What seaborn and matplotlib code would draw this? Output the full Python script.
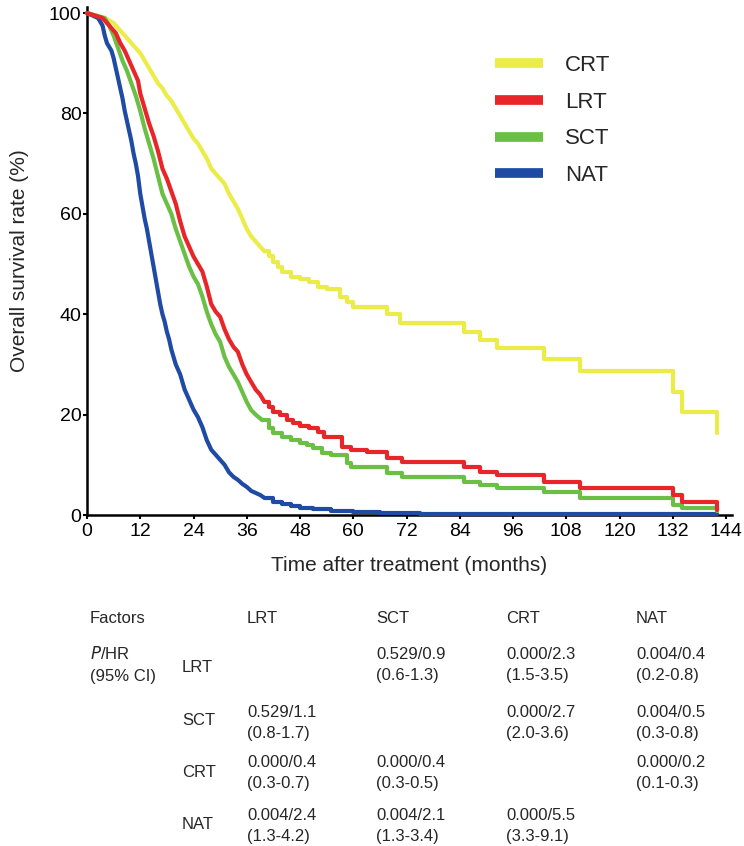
import matplotlib
matplotlib.use("Agg")
import matplotlib.pyplot as plt
from matplotlib.lines import Line2D
import pandas as pd
import seaborn as sns

# Kaplan-Meier style survival (%) (months)
crt_t = [0, 4, 6, 7, 8, 9, 10, 11, 12, 13, 14, 15, 16, 17, 18, 19, 20, 21, 22, 23,
         24, 25, 26, 27, 28, 29, 30, 31, 32, 33, 34, 35, 36, 37, 38, 39, 40, 41, 42,
         43, 44, 46, 48, 50, 52, 54, 57, 58.5, 60, 67.5, 70.5, 85, 88.5, 92.3, 103,
         111, 132, 134, 142]
crt_s = [100, 99, 98, 97, 96, 95, 94, 93, 92, 90.5, 89, 87.5, 86, 85, 83.5, 82.5, 81,
         79.5, 78, 76.5, 75, 74, 72.5, 71, 69, 68, 67, 66, 64, 62.5, 61, 59, 57, 55.5,
         54.5, 53.5, 52.5, 51.5, 50.5, 49.5, 48.5, 47.5, 47, 46.5, 45.5, 45, 43.5,
         42.5, 41.5, 40, 38.2, 36.5, 34.9, 33.2, 31.1, 28.7, 24.5, 20.5, 16.3]

lrt_t = [0, 3.5, 4.5, 5.5, 6.5, 7.5, 8.5, 9.5, 10.5, 11.5, 12, 13, 14, 15, 16, 17, 18,
         19, 20, 21, 22, 23, 24, 25, 26, 27, 28, 29, 30, 31, 32, 33, 34, 35, 36, 37,
         38, 39, 40, 41, 42, 43.5, 45, 46.5, 48, 50, 52, 53.5, 57.5, 59.5, 63, 67.5,
         71, 85, 88.5, 92.3, 103, 111, 132, 134, 142]
lrt_s = [100, 99, 98, 97, 96, 94, 92.5, 90.5, 88.5, 86.5, 84, 81, 78, 75.5, 72.5, 69,
         67, 64.5, 62, 58.5, 55.5, 53.5, 51.5, 50, 48.5, 45.5, 42, 40.5, 39.5, 37, 35,
         33.5, 32.5, 30, 28, 26.5, 25, 24, 22.5, 21.5, 20.5, 19.9, 19, 18.3, 17.8,
         17.3, 16.5, 15.5, 13.5, 12.9, 12.5, 11.4, 10.6, 9.6, 8.6, 8.0, 6.6, 5.4, 4.0,
         2.6, 1.0]

sct_t = [0, 4, 5, 6, 7, 8, 9, 10, 11, 12, 13, 14, 15, 16, 17, 18, 19, 20, 21, 22, 23,
         24, 25, 26, 27, 28, 29, 30, 31, 32, 33, 34, 35, 36, 37, 38, 39.5, 41, 42, 44,
         46, 48, 49.5, 51, 53, 55, 58.5, 59.5, 67.5, 71, 85, 88.5, 92.3, 103, 111,
         132, 134, 142]
sct_s = [100, 99, 97.5, 95.5, 93, 90.5, 88.5, 86, 83.5, 80.5, 77, 74, 71, 67.5, 64,
         62, 60, 57, 54.5, 52, 49.5, 47.5, 46, 43.5, 40.5, 38, 36, 34.5, 31.5, 29.5,
         28, 26.5, 24.5, 22.5, 20.9, 20, 18.9, 17.3, 16.3, 15.5, 14.9, 14.3, 13.9,
         13.3, 12.4, 11.9, 10.3, 9.6, 8.4, 7.6, 6.6, 6.0, 5.4, 4.6, 3.4, 2.0, 1.4, 0.8]

nat_t = [0, 2.5, 3.5, 4, 4.5, 5.5, 6, 6.5, 7, 7.5, 8, 8.5, 9, 9.5, 10, 10.5, 11, 11.5,
         12, 12.5, 13, 13.5, 14, 14.5, 15, 15.5, 16, 16.5, 17, 17.5, 18, 18.5, 19,
         19.5, 20, 21, 22, 23, 24, 25, 26, 27, 28, 29, 30, 31, 32, 33, 34, 35, 36, 37,
         38, 39, 40, 42, 44, 46, 48, 51, 55, 60, 66, 75, 142]
nat_s = [100, 99, 97.5, 95.5, 94, 92.5, 91, 89, 87, 85, 83, 80.5, 78.5, 76.5, 74.5,
         72, 70, 67.5, 64, 61.5, 59, 57, 54.5, 52, 49.5, 47, 44.5, 42, 40, 38.5, 36.5,
         35, 33, 31.5, 30, 28, 25, 23, 21, 19.5, 17.5, 14.9, 13, 12, 11, 10, 8.5, 7.6,
         7, 6.2, 5.6, 4.8, 4.4, 4, 3.4, 2.6, 2.2, 1.8, 1.4, 1.2, 0.8, 0.5, 0.3, 0.2,
         0.2]

groups = ["CRT", "LRT", "SCT", "NAT"]
colors = {"CRT": "#ecec48", "LRT": "#e8262a", "SCT": "#6cbf45", "NAT": "#1f4ba5"}

x_ticks = list(range(0, 145, 12))
y_ticks = [0, 20, 40, 60, 80, 100]

# comparison table: header, row labels, cells (None = blank)
col_labels = ["LRT", "SCT", "CRT", "NAT"]
row_labels = ["LRT", "SCT", "CRT", "NAT"]
cells = [
    [None, "0.529/0.9\n(0.6-1.3)", "0.000/2.3\n(1.5-3.5)", "0.004/0.4\n(0.2-0.8)"],
    ["0.529/1.1\n(0.8-1.7)", None, "0.000/2.7\n(2.0-3.6)", "0.004/0.5\n(0.3-0.8)"],
    ["0.000/0.4\n(0.3-0.7)", "0.000/0.4\n(0.3-0.5)", None, "0.000/0.2\n(0.1-0.3)"],
    ["0.004/2.4\n(1.3-4.2)", "0.004/2.1\n(1.3-3.4)", "0.000/5.5\n(3.3-9.1)", None],
]

# the dense early decline reads as a jagged line, the sparse tail as clear steps
STEP_FROM = 40

early_parts, late_parts = [], []
for name, t, s in [("CRT", crt_t, crt_s), ("LRT", lrt_t, lrt_s),
                   ("SCT", sct_t, sct_s), ("NAT", nat_t, nat_s)]:
    d = pd.DataFrame({"month": t, "survival": s, "group": name})
    cut = d.loc[d["month"] <= STEP_FROM, "month"].max()
    early_parts.append(d[d["month"] <= cut])
    late_parts.append(d[d["month"] >= cut])
early = pd.concat(early_parts, ignore_index=True)
late = pd.concat(late_parts, ignore_index=True)

sns.set_style("ticks")
plt.rcParams["font.family"] = ["Liberation Sans", "DejaVu Sans"]

W, H = 744, 846
fig = plt.figure(figsize=(W / 100, H / 100), dpi=100)
ax = fig.add_axes([87 / W, 1 - 515 / H, (732 - 87) / W, (515 - 7) / H])

order = ["CRT", "NAT", "SCT", "LRT"]
sns.lineplot(data=early, x="month", y="survival", hue="group", hue_order=order,
             palette=colors, estimator=None, lw=3, legend=False, ax=ax,
             zorder=3, clip_on=False)
sns.lineplot(data=late, x="month", y="survival", hue="group", hue_order=order,
             palette=colors, estimator=None, drawstyle="steps-post", lw=3,
             legend=False, ax=ax, zorder=3, clip_on=False)

ax.set_xlim(0, 145.35)
ax.set_ylim(0, 101.2)
ax.set_xticks(x_ticks)
ax.set_yticks(y_ticks)
ax.tick_params(axis="both", labelsize=14, width=1.5, length=3, color="black",
               labelcolor="black")
ax.tick_params(axis="y", pad=1)
ax.tick_params(axis="x", pad=3)
for side in ["top", "right"]:
    ax.spines[side].set_visible(False)
for side in ["left", "bottom"]:
    ax.spines[side].set_linewidth(1.8)
    ax.spines[side].set_color("black")

ax.set_xlabel("Time after treatment (months)", fontsize=15)
ax.set_ylabel("Overall survival rate (%)", fontsize=15)
ax.xaxis.set_label_coords(0.5, -0.081)
ax.yaxis.set_label_coords(-0.09, 0.5)

handles = [Line2D([], [], color=colors[g], lw=7, solid_capstyle="butt") for g in groups]
ax.legend(handles, groups, loc="upper left", bbox_to_anchor=(0.633, 0.905),
          frameon=False, borderpad=0, borderaxespad=0, handlelength=2.15,
          handletextpad=1.0, labelspacing=0.7, prop={"size": 16})


def put(x, y, s):
    fig.text(x / W, 1 - y / H, s, fontsize=12, va="baseline", ha="left")


col_x = [247, 376, 506, 636]
put(90, 623, "Factors")
for cx, lab in zip(col_x, col_labels):
    put(cx, 623, lab)
put(90, 659, "$\\it{P}$/HR")
put(90, 681, "(95% CI)")

row_base = [672, 725, 777, 829]
val_base = [659, 717, 767, 820]
for i, lab in enumerate(row_labels):
    put(182, row_base[i], lab)
    for j, cell in enumerate(cells[i]):
        if cell is None:
            continue
        first, second = cell.split("\n")
        put(col_x[j], val_base[i], first)
        put(col_x[j], val_base[i] + 21, second)

fig.savefig("out.png", dpi=100)
